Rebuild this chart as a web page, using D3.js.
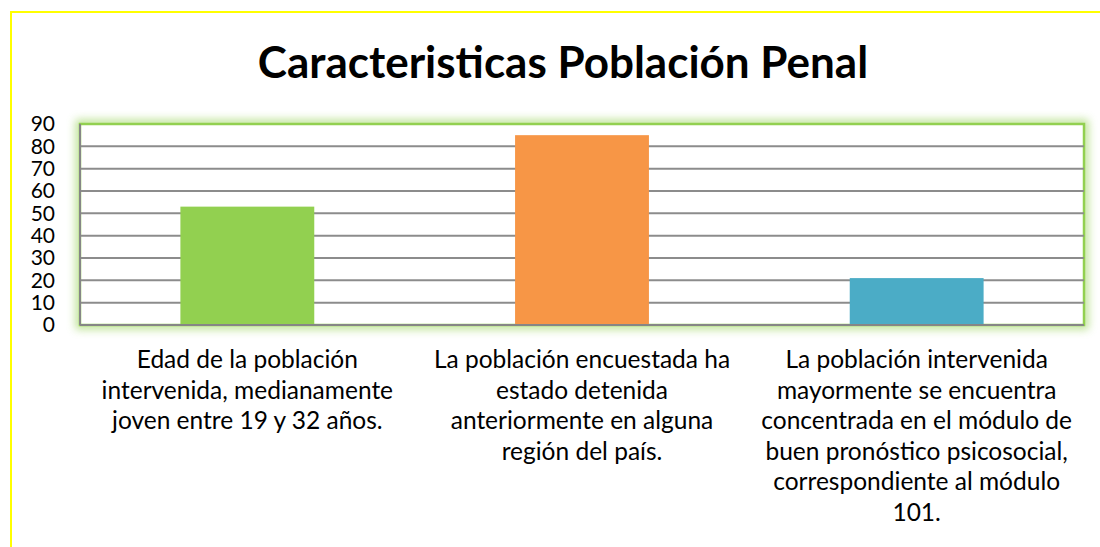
<!doctype html>
<html lang="es">
<head>
<meta charset="utf-8">
<title>Caracteristicas Población Penal</title>
<script src="https://d3js.org/d3.v7.min.js"></script>
<style>
  body { margin: 0; background: #fff; }
  text { font-family: Lato, "Liberation Sans", sans-serif; fill: #000; }
</style>
</head>
<body>
<script>
// data
var categories = ["c1", "c2", "c3"];
var values = [53, 85, 21];
var barColors = ["#92D050", "#F79646", "#4BACC6"];
var categoryLabels = [
  ["Edad de la población", "intervenida, medianamente", "joven entre 19 y 32 años."],
  ["La población encuestada ha", "estado detenida", "anteriormente en alguna", "región del país."],
  ["La población intervenida", "mayormente se encuentra", "concentrada en el módulo de", "buen pronóstico psicosocial,", "correspondiente al módulo", "101."]
];
var yTicks = [0, 10, 20, 30, 40, 50, 60, 70, 80, 90];
var title = "Caracteristicas Población Penal";

var W = 1100, H = 547;
var plot = {left: 80, top: 124, right: 1084, bottom: 325};

var svg = d3.select("body").append("svg")
  .attr("width", W).attr("height", H);

// glow filter for the plot frame
var defs = svg.append("defs");
var glow = defs.append("filter").attr("id", "glow")
  .attr("x", "-5%").attr("y", "-20%").attr("width", "110%").attr("height", "140%");
glow.append("feGaussianBlur").attr("stdDeviation", 4.5);

// outer yellow border
svg.append("rect")
  .attr("x", 11).attr("y", 12)
  .attr("width", 1200).attr("height", 700)
  .attr("fill", "none").attr("stroke", "#FFFF00").attr("stroke-width", 2);

svg.append("text")
  .attr("x", 563).attr("y", 78)
  .attr("text-anchor", "middle")
  .style("font-size", "44px").style("font-weight", "bold")
  .text(title);

var x = d3.scaleBand()
  .domain(categories)
  .range([plot.left, plot.right])
  .paddingInner(0.6).paddingOuter(0.3);

var y = d3.scaleLinear()
  .domain([0, 90])
  .range([plot.bottom, plot.top]);

// glow + frame
svg.append("rect")
  .attr("x", plot.left).attr("y", plot.top)
  .attr("width", plot.right - plot.left).attr("height", plot.bottom - plot.top)
  .attr("fill", "none").attr("stroke", "#A9DA74").attr("stroke-width", 9)
  .attr("opacity", 0.75)
  .attr("filter", "url(#glow)");
svg.append("rect")
  .attr("x", plot.left).attr("y", plot.top)
  .attr("width", plot.right - plot.left).attr("height", plot.bottom - plot.top)
  .attr("fill", "#fff").attr("stroke", "#92D050").attr("stroke-width", 2.5);

// gridlines
svg.append("g")
  .selectAll("line")
  .data(yTicks.filter(function(d) { return d > 0 && d < 90; }))
  .join("line")
  .attr("x1", plot.left).attr("x2", plot.right)
  .attr("y1", function(d) { return y(d); })
  .attr("y2", function(d) { return y(d); })
  .attr("stroke", "#8C8C8C").attr("stroke-width", 2);

// bars
svg.append("g")
  .selectAll("rect")
  .data(values)
  .join("rect")
  .attr("x", function(d, i) { return x(categories[i]); })
  .attr("y", function(d) { return y(d); })
  .attr("width", x.bandwidth())
  .attr("height", function(d) { return y(0) - y(d); })
  .attr("fill", function(d, i) { return barColors[i]; });

// axis lines (left and bottom)
svg.append("line")
  .attr("x1", plot.left).attr("x2", plot.left)
  .attr("y1", plot.top).attr("y2", plot.bottom)
  .attr("stroke", "#868686").attr("stroke-width", 2);
svg.append("line")
  .attr("x1", plot.left).attr("x2", plot.right)
  .attr("y1", plot.bottom).attr("y2", plot.bottom)
  .attr("stroke", "#868686").attr("stroke-width", 2);

// y tick labels
var yAxis = svg.append("g")
  .attr("transform", "translate(" + (plot.left - 25) + ",0)")
  .call(d3.axisLeft(y).tickValues(yTicks).tickSize(0).tickPadding(0));
yAxis.select(".domain").remove();
yAxis.selectAll("text")
  .style("font-size", "21px")
  .style("font-family", "Lato, sans-serif")
  .attr("fill", "#000");

// category labels
var lineH = 30.5;
var lab = svg.append("g").selectAll("text")
  .data(categoryLabels)
  .join("text")
  .attr("text-anchor", "middle")
  .style("font-size", "24.5px");
lab.each(function(lines, i) {
  var cx = x(categories[i]) + x.bandwidth() / 2;
  d3.select(this).selectAll("tspan")
    .data(lines)
    .join("tspan")
    .attr("x", cx)
    .attr("y", function(d, j) { return 368 + j * lineH; })
    .text(function(d) { return d; });
});
</script>
</body>
</html>
